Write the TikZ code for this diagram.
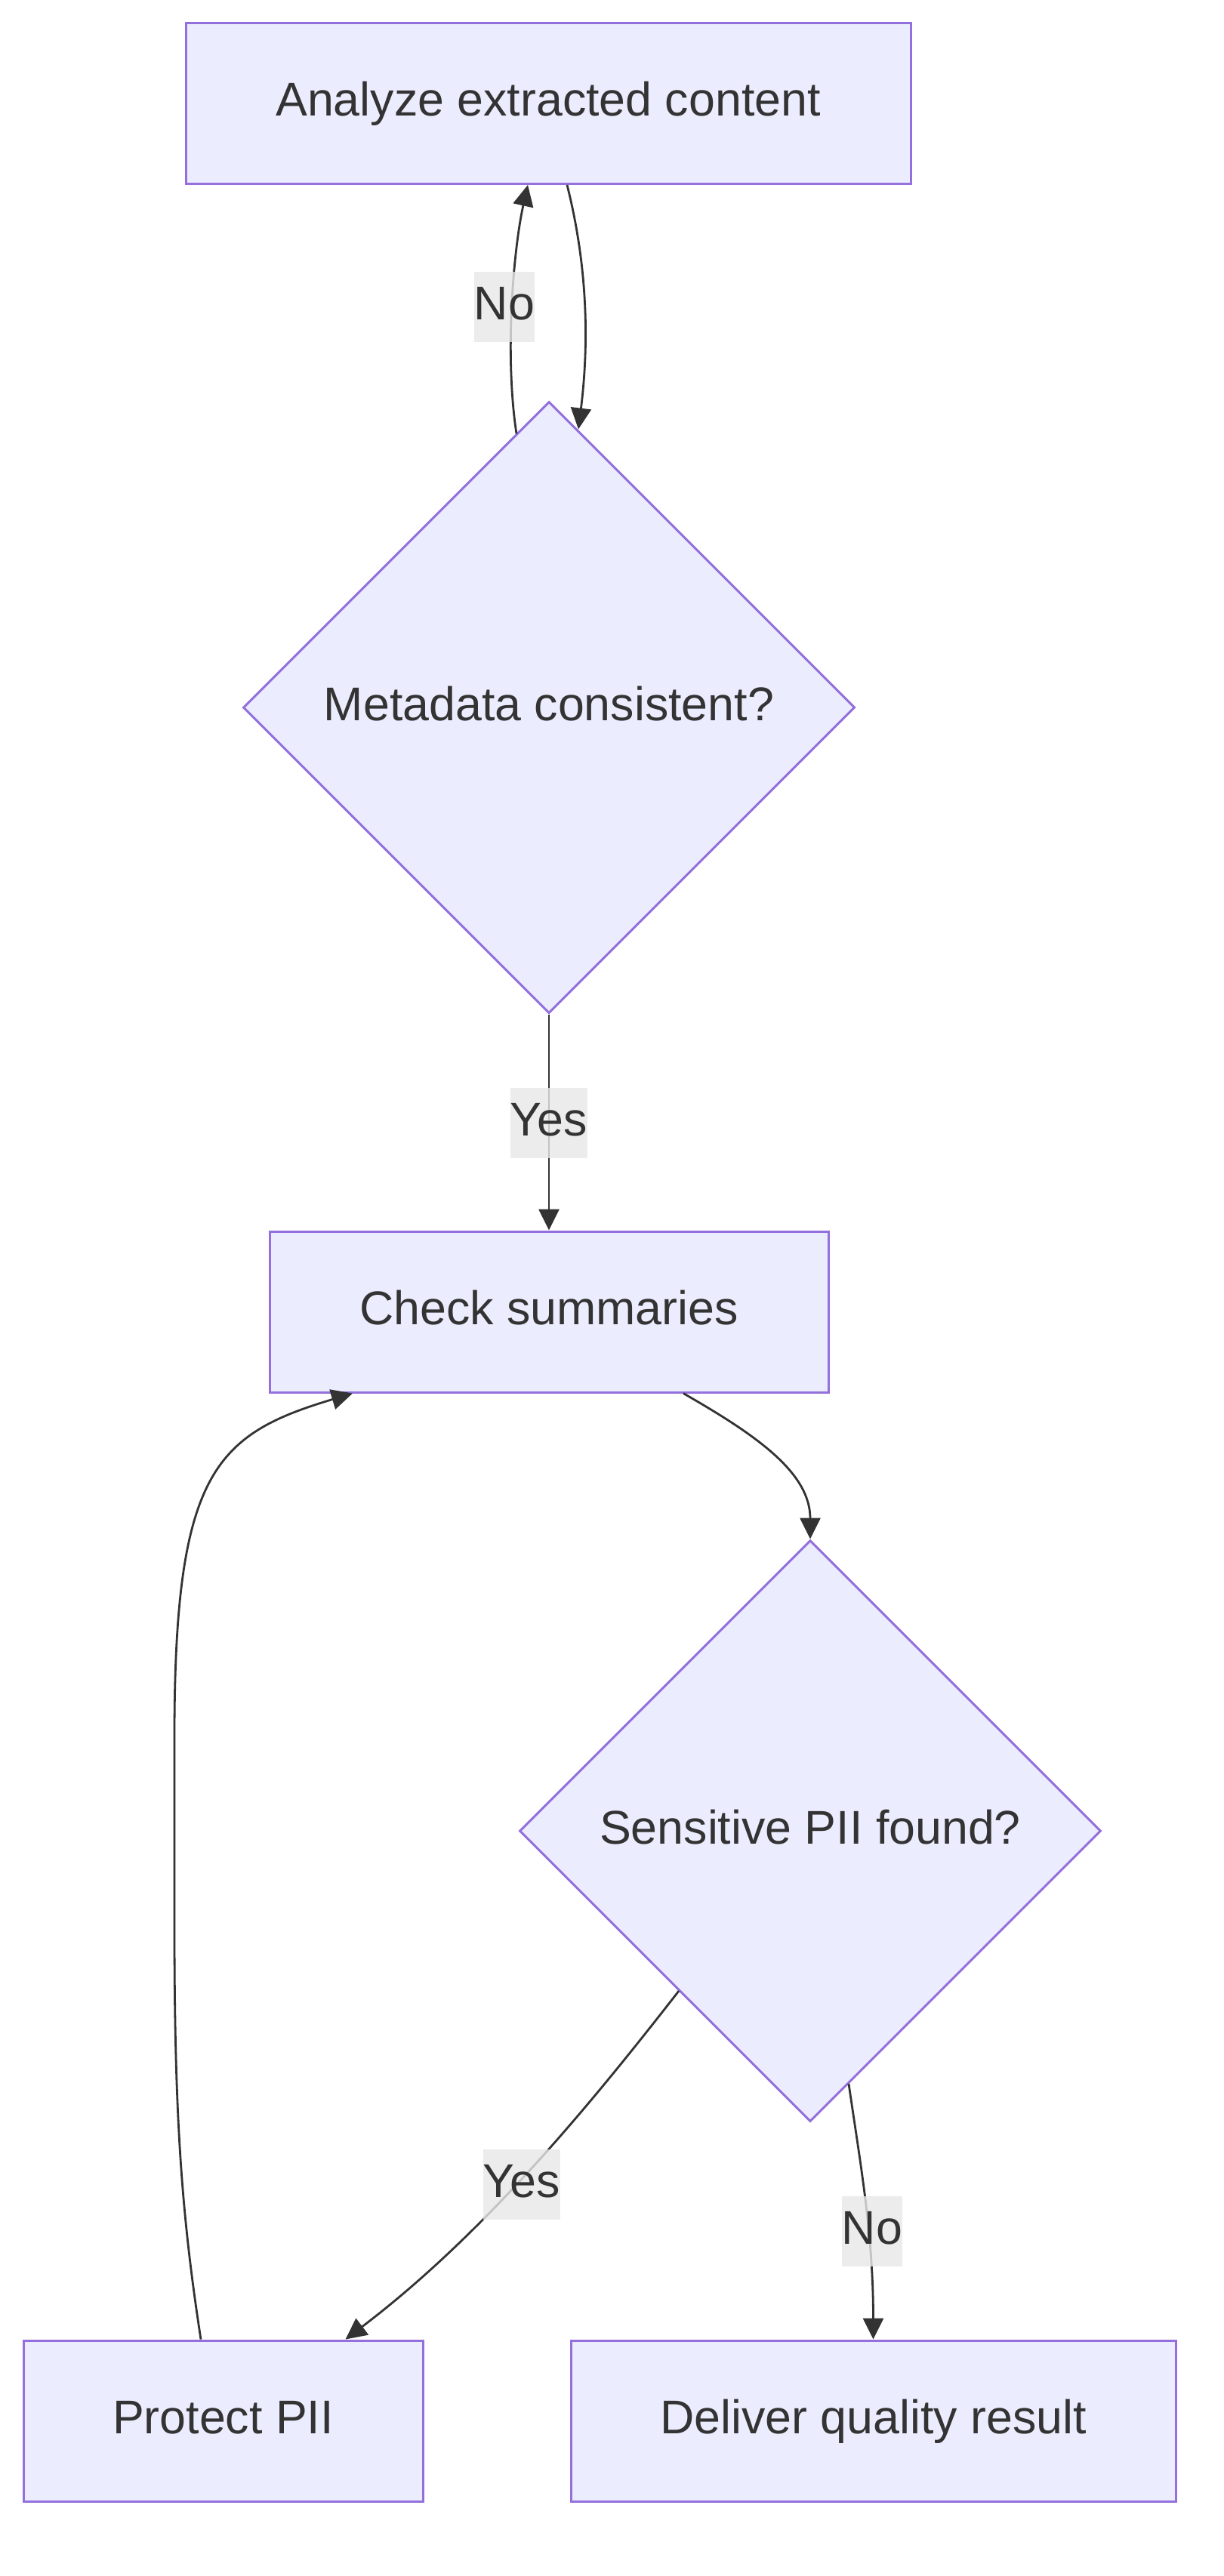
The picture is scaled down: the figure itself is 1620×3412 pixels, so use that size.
\documentclass[tikz,border=0pt]{standalone}
\usepackage{fontspec}
\setmainfont{Liberation Sans}
\usetikzlibrary{shapes.geometric,arrows.meta,calc}
\definecolor{nodefill}{HTML}{ECECFF}
\definecolor{nodeline}{HTML}{9370DB}
\definecolor{ink}{HTML}{333333}
\definecolor{lblbg}{HTML}{E8E8E8}
\begin{document}
\begin{tikzpicture}[x=1pt,y=-1pt,
  every node/.style={font=\fontsize{62.7pt}{75pt}\selectfont, text=ink},
  procbox/.style={rectangle, draw=nodeline, fill=nodefill, line width=3pt, minimum width=#1, minimum height=213pt, inner sep=0pt, text height=46pt, text depth=12pt},
  decision/.style={diamond, aspect=1, draw=nodeline, fill=nodefill, line width=3pt, minimum width=#1, minimum height=#1, inner sep=0pt, text height=46pt, text depth=12pt},
  edgelbl/.style={fill=lblbg, fill opacity=0.8, text opacity=1, inner xsep=0pt, inner ysep=0pt, minimum height=93pt, text height=46pt, text depth=12pt},
  flow/.style={draw=ink, line width=2.8pt, -{Triangle[length=28pt,width=27pt]}},
]
\fill[white] (0,0) rectangle (1620,3412);
\useasboundingbox (0,0) rectangle (1620,3412);

\node[procbox=960pt] (A) at (726,137) {Analyze extracted content};
\node[decision=810pt] (B) at (727,937) {Metadata consistent?};
\node[procbox=740pt] (C) at (727,1737.5) {Check summaries};
\node[decision=770pt] (D) at (1073,2425) {Sensitive PII found?};
\node[procbox=529pt] (E) at (295.5,3206.5) {Protect PII};
\node[procbox=801pt] (F) at (1156.5,3206.5) {Deliver quality result};

\draw[flow] ($(A.south)+(25,0)$) .. controls (775,340) and (782,440) .. ($(B.north)+(39,38)$);
\draw[flow] ($(B.north)+(-43,44)$) .. controls (668,470) and (680,330) .. ($(A.south)+(-27,0)$);
\draw[flow] (B.south) -- (B.south |- C.north);
\draw[flow] ($(C.south)+(178,0)$) .. controls (1000,1900) and (1073,1950) .. (D.north);
\draw[flow] ($(D.center)+(-174,212)$) .. controls (780,2790) and (640,2960) .. ($(E.north)+(162,0)$);
\draw[flow] ($(D.center)+(51,335)$) .. controls (1140,2870) and (1156.5,2960) .. (F.north);
\draw[flow] ($(E.north)+(-29.5,0)$) .. controls (240,2930) and (231,2800) .. (231,2550) -- (231,2300) .. controls (231,1950) and (285,1900) .. ($(C.south)+(-260,0)$);

\node[edgelbl] (l1) at (668,406) {No};
\node[edgelbl] (l2) at (727,1487) {Yes};
\node[edgelbl] (l3) at (691,2893) {Yes};
\node[edgelbl] (l4) at (1155,2955) {No};
\end{tikzpicture}
\end{document}
